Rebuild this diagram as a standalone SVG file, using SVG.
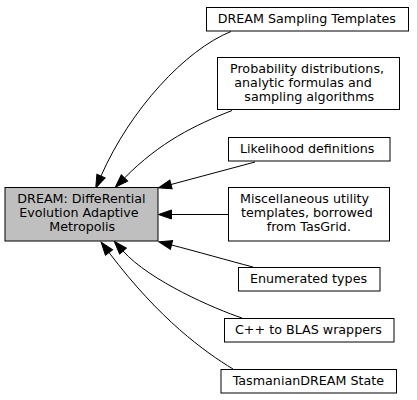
<svg xmlns="http://www.w3.org/2000/svg" width="417" height="400" viewBox="0 0 417 400">
<style>
.box{fill:#ffffff;stroke:#000000;stroke-width:1}
.main{fill:#bfbfbf;stroke:#000000;stroke-width:1}
.lbl{font-family:"DejaVu Sans",sans-serif;font-size:12.7px;fill:#000000}
.edge{fill:none;stroke:#000000;stroke-width:1}
</style>
<defs>
<marker id="arr" markerUnits="userSpaceOnUse" markerWidth="16" markerHeight="12" refX="0" refY="6" orient="auto" viewBox="0 0 16 12" overflow="visible">
<path d="M0,1.5 L13,6 L0,10.5 Z" fill="#000000" stroke="#000000" stroke-width="1"/>
</marker>
</defs>
<rect width="417" height="400" fill="#ffffff"/>
<g id="edges">
<path class="edge" d="M231,31.5 C185,50 130,110 101,176" marker-end="url(#arr)"/>
<path class="edge" d="M232,110.5 C195,125 160,142 124.5,178" marker-end="url(#arr)"/>
<path class="edge" d="M255,162 L171,184.5" marker-end="url(#arr)"/>
<path class="edge" d="M228.5,214.5 L171.5,214.5" marker-end="url(#arr)"/>
<path class="edge" d="M253,267 C230,261 195,251 171.5,245" marker-end="url(#arr)"/>
<path class="edge" d="M242,318 C215,309 150,281 123,251" marker-end="url(#arr)"/>
<path class="edge" d="M233,369 C205,352 160,320 109,252.5" marker-end="url(#arr)"/>
</g>
<g id="node_main">
<rect class="main" x="5" y="187.5" width="153" height="53.5"/>
<text class="lbl" x="17.3" y="202.5">DREAM: DiffeRential</text>
<text class="lbl" x="19.3" y="216.5">Evolution Adaptive</text>
<text class="lbl" x="49.3" y="230.5">Metropolis</text>
</g>
<g id="node_sampling">
<rect class="box" x="206.5" y="7.5" width="202" height="23.5"/>
<text class="lbl" x="217.7" y="22.5">DREAM Sampling Templates</text>
</g>
<g id="node_probability">
<rect class="box" x="217.5" y="57.5" width="182" height="52"/>
<text class="lbl" x="230" y="72.5">Probability distributions,</text>
<text class="lbl" x="234.3" y="86.5">analytic formulas and</text>
<text class="lbl" x="244.3" y="100.5">sampling algorithms</text>
</g>
<g id="node_likelihood">
<rect class="box" x="228.5" y="137.5" width="161.5" height="23.5"/>
<text class="lbl" x="240" y="152.5">Likelihood definitions</text>
</g>
<g id="node_misc">
<rect class="box" x="228.5" y="187.5" width="161" height="53.5"/>
<text class="lbl" x="240" y="202.5">Miscellaneous utility</text>
<text class="lbl" x="241" y="216.5">templates, borrowed</text>
<text class="lbl" x="266.7" y="230.5">from TasGrid.</text>
</g>
<g id="node_enum">
<rect class="box" x="238.5" y="267.5" width="141.5" height="23.5"/>
<text class="lbl" x="250" y="282.5">Enumerated types</text>
</g>
<g id="node_blas">
<rect class="box" x="224.5" y="318.5" width="169.5" height="23.5"/>
<text class="lbl" x="235" y="333.5">C++ to BLAS wrappers</text>
</g>
<g id="node_state">
<rect class="box" x="221" y="369.5" width="175.5" height="23.5"/>
<text class="lbl" x="232.7" y="384.5">TasmanianDREAM State</text>
</g>
</svg>
